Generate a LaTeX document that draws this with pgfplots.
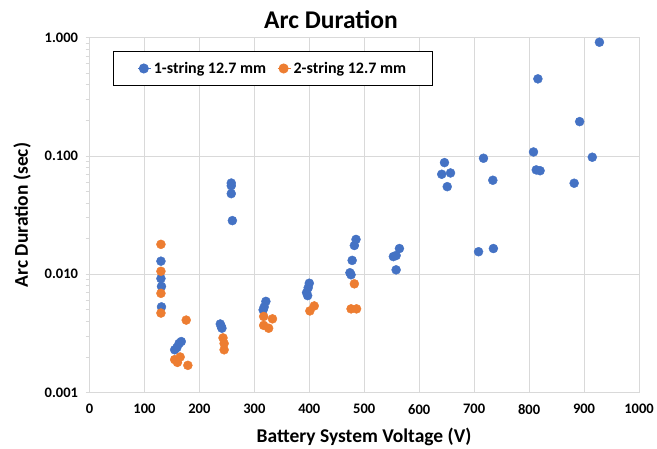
\documentclass[border=0pt]{standalone}
\usepackage{pgfplots}
\pgfplotsset{compat=1.18}
\usepackage{fontspec}
\setmainfont{Carlito}

\definecolor{oneStr}{HTML}{4472C4}
\definecolor{twoStr}{HTML}{ED7D31}
\definecolor{gridc}{HTML}{D9D9D9}

\begin{document}
\begin{tikzpicture}[x=1pt,y=1pt]
\path[use as bounding box] (0,0) rectangle (657,449);
\begin{axis}[
  at={(89.5pt,56.4pt)}, anchor=south west,
  scale only axis, width=549.5pt, height=355pt,
  xmin=0, xmax=1000, ymin=0.001, ymax=1, ymode=log,
  xtick={0,100,...,1000},
  ytick={0.001,0.01,0.1,1},
  yticklabels={0.001,0.010,0.100,1.000},
  minor ytick={0.002,0.003,0.004,0.005,0.006,0.007,0.008,0.009,
               0.02,0.03,0.04,0.05,0.06,0.07,0.08,0.09,
               0.2,0.3,0.4,0.5,0.6,0.7,0.8,0.9},
  axis line style={gridc, line width=0.8pt},
  grid style={gridc, line width=0.8pt},
  xmajorgrids, ymajorgrids,
  tick pos=left, tick align=outside,
  xtick style={draw=none},
  ytick style={gridc, line width=0.8pt},
  major tick length=4pt, minor tick length=4pt,
  /pgf/number format/assume math mode=true,
  /pgf/number format/set thousands separator={},
  ticklabel style={font=\fontsize{14.5}{16}\selectfont\bfseries},
  xticklabel style={yshift=-4pt},
  yticklabel style={xshift=-4pt},
  legend style={at={(0.0428,0.963)}, anchor=north west,
    draw=black, line width=0.8pt, inner xsep=24pt, inner ysep=9pt,
    legend columns=2, font=\fontsize{16}{18}\selectfont\bfseries,
    /tikz/every even column/.append style={column sep=9pt}},
  legend cell align=left,
  legend image code/.code={\path (0pt,0pt) -- (13.6pt,0pt);
    \fill[#1] (6pt,0pt) circle (4.6pt);},
]
\addplot[only marks, mark=*, mark size=4.5pt, color=oneStr]
  table {
x y
130 0.0129
130 0.0092
131 0.0079
131 0.0053
155 0.0023
159 0.0024
163 0.0026
167 0.0027
238 0.0038
240 0.0036
241 0.0035
258 0.059
258 0.056
258 0.048
260 0.0284
316 0.0050
318 0.0053
321 0.0059
395 0.0070
397 0.0066
398 0.0077
400 0.0084
474 0.0103
476 0.0099
478 0.0131
482 0.0175
485 0.0197
553 0.0141
558 0.0144
558 0.0109
564 0.0165
641 0.0700
646 0.0878
651 0.0550
657 0.0718
708 0.0155
717 0.0956
734 0.0623
735 0.0165
808 0.108
813 0.0762
816 0.448
820 0.0750
882 0.0588
892 0.195
915 0.0975
928 0.914
};
\addlegendentry{1-string 12.7 mm}
\addplot[only marks, mark=*, mark size=4.5pt, color=twoStr]
  table {
x y
130 0.0179
130 0.0106
130 0.0069
130 0.0047
155 0.0019
160 0.0018
165 0.0020
176 0.0041
179 0.0017
243 0.0029
245 0.0026
245 0.0023
317 0.0044
317 0.0037
326 0.0035
333 0.0042
401 0.0049
409 0.0054
476 0.0051
482 0.0083
486 0.0051
};
\addlegendentry{2-string 12.7 mm}
\end{axis}
\node[font=\fontsize{25.5}{30}\selectfont\bfseries] at (331,429) {Arc Duration};
\node[font=\fontsize{19.5}{23}\selectfont\bfseries] at (364,12) {Battery System Voltage (V)};
\node[font=\fontsize{19.5}{23}\selectfont\bfseries, rotate=90] at (22,234) {Arc Duration (sec)};
\end{tikzpicture}
\end{document}
